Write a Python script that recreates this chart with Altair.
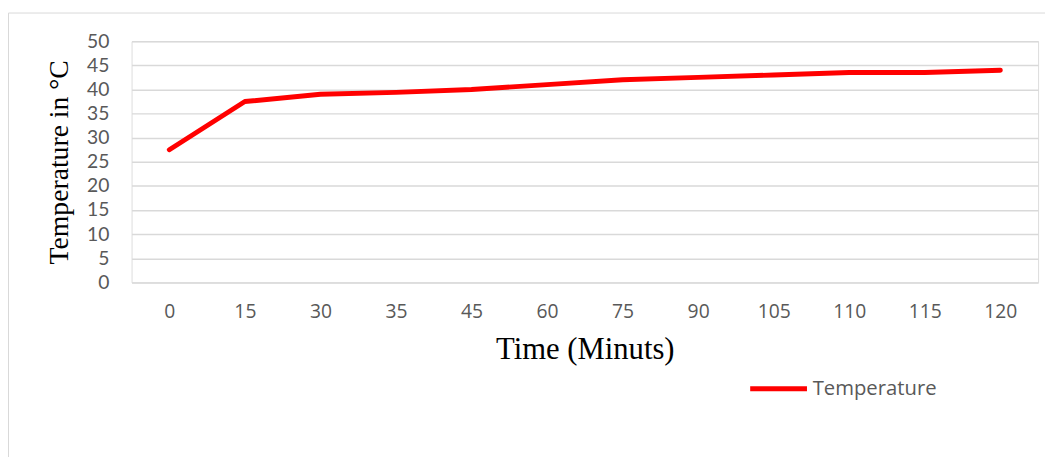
import altair as alt
import pandas as pd

times = ["0", "15", "30", "35", "45", "60", "75", "90", "105", "110", "115", "120"]
temps = [27.5, 37.5, 39.0, 39.4, 40.0, 41.0, 42.0, 42.5, 43.0, 43.5, 43.5, 44.0]
series = ["Temperature"] * len(times)
y_ticks = [0, 5, 10, 15, 20, 25, 30, 35, 40, 45, 50]

df = pd.DataFrame({"Time": times, "Temp": temps, "Series": series})

W, H = 917, 244
LABEL_FONT = "Open Sans"

frame = alt.Chart(pd.DataFrame({"a": [0]})).mark_rect(
    fill="transparent", stroke="#d9d9d9", strokeWidth=1
).encode(
    x=alt.value(-124.5), x2=alt.value(W + 60),
    y=alt.value(-28.5), y2=alt.value(H + 200),
)

line = alt.Chart(df).mark_line(strokeWidth=5, strokeCap="round", strokeJoin="round").encode(
    x=alt.X("Time:N", sort=times,
            scale=alt.Scale(type="point", padding=0.5),
            axis=alt.Axis(title="Time (Minuts)", labelAngle=0, ticks=False, domain=False,
                          grid=False, labelPadding=20, titlePadding=14,
                          labelFont=LABEL_FONT, labelFontSize=19.5, labelColor="#595959",
                          titleFont="Liberation Serif", titleFontSize=31,
                          titleFontWeight="normal", titleColor="#000000")),
    y=alt.Y("Temp:Q", scale=alt.Scale(domain=[0, 50], nice=False),
            axis=alt.Axis(title="Temperature in °C", values=y_ticks, ticks=False, domain=False,
                          grid=True, gridColor="#d9d9d9", gridWidth=1.5,
                          labelPadding=23, titlePadding=13,
                          labelFont="Lato", labelFontSize=19.5, labelColor="#595959",
                          titleFont="Liberation Serif", titleFontSize=28,
                          titleFontWeight="normal", titleColor="#000000")),
    color=alt.Color("Series:N", scale=alt.Scale(domain=["Temperature"], range=["#ff0000"]),
                    legend=alt.Legend(title=None, orient="none", legendX=623, legendY=320,
                                      symbolType="stroke", symbolSize=3300, symbolStrokeWidth=5,
                                      labelFont=LABEL_FONT, labelFontSize=20.5,
                                      labelColor="#595959", labelOffset=3)),
)

chart = alt.layer(frame, line).properties(
    width=W, height=H,
    autosize=alt.AutoSizeParams(type="none"),
    padding={"left": 125, "top": 31, "right": 7, "bottom": 174},
).configure_view(stroke=None).configure(background="white")

chart.save("out.html", embed_options={"renderer": "svg", "actions": False})
